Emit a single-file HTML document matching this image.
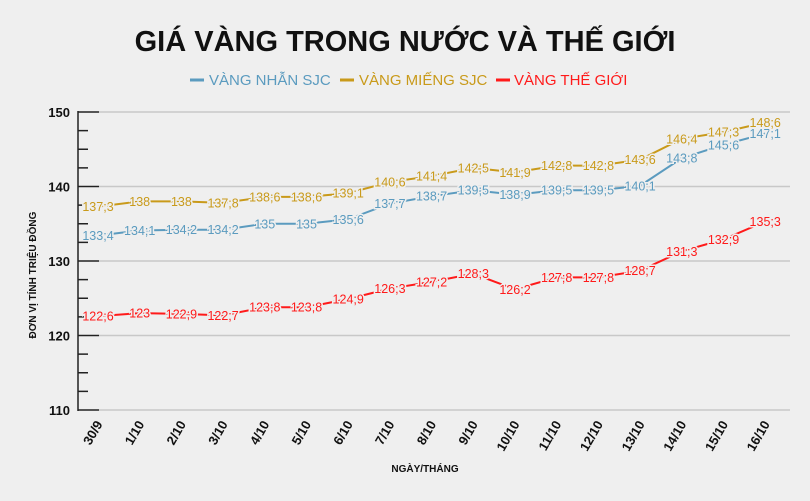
<!DOCTYPE html><html><head><meta charset="utf-8"><style>body{margin:0;background:#efefef;}svg{display:block;font-family:"Liberation Sans",sans-serif;}</style></head><body>
<svg id="s" width="810" height="501" xmlns="http://www.w3.org/2000/svg">
<rect width="810" height="501" fill="#efefef"/>
<text x="405" y="51" text-anchor="middle" font-size="29" font-weight="bold" fill="#111">GIÁ VÀNG TRONG NƯỚC VÀ THẾ GIỚI</text>
<line x1="190" y1="80" x2="204" y2="80" stroke="#5b9bbf" stroke-width="3"/><text x="209" y="85" font-size="15" fill="#5b9bbf">VÀNG NHẪN SJC</text>
<line x1="340" y1="80" x2="354" y2="80" stroke="#c99a1a" stroke-width="3"/><text x="359" y="85" font-size="15" fill="#c99a1a">VÀNG MIẾNG SJC</text>
<line x1="496" y1="80" x2="510" y2="80" stroke="#ff1a1a" stroke-width="3"/><text x="514" y="85" font-size="15" fill="#ff1a1a">VÀNG THẾ GIỚI</text>
<text transform="translate(36,275) rotate(-90)" text-anchor="middle" font-size="10" font-weight="bold" fill="#111">ĐƠN VỊ TÍNH TRIỆU ĐỒNG</text>
<text x="425" y="472" text-anchor="middle" font-size="10" font-weight="bold" fill="#111">NGÀY/THÁNG</text>
<g id="g"></g>
</svg>
<script>
var g=document.getElementById('g'),h='';
function Y(v){return 112+(150-v)*7.45;}
for(var i=0;i<=16;i++){var v=110+i*2.5,y=Y(v),maj=i%4==0;
h+='<line x1="78" y1="'+y+'" x2="'+(maj?99:88)+'" y2="'+y+'" stroke="#222" stroke-width="1.5"/>';
if(maj){h+='<line x1="99" y1="'+y+'" x2="790" y2="'+y+'" stroke="#c8c8c8" stroke-width="1.5"/><text x="70" y="'+(y+5)+'" text-anchor="end" font-size="13" font-weight="bold" fill="#111">'+v+'</text>';}}
h+='<line x1="78" y1="111" x2="78" y2="411" stroke="#222" stroke-width="1.5"/>';
var d=['30/9','1/10','2/10','3/10','4/10','5/10','6/10','7/10','8/10','9/10','10/10','11/10','12/10','13/10','14/10','15/10','16/10'];
function X(i){return 98+i*41.7;}
d.forEach(function(t,i){h+='<text transform="translate('+(X(i)+5)+',424) rotate(-60)" text-anchor="end" font-size="13" font-weight="bold" fill="#111">'+t+'</text>';});
var S=[["#5b9bbf",[133.4,134.1,134.2,134.2,135,135,135.6,137.7,138.7,139.5,138.9,139.5,139.5,140.1,143.8,145.6,147.1]],
["#c99a1a",[137.3,138,138,137.8,138.6,138.6,139.1,140.6,141.4,142.5,141.9,142.8,142.8,143.6,146.4,147.3,148.6]],
["#ff1a1a",[122.6,123,122.9,122.7,123.8,123.8,124.9,126.3,127.2,128.3,126.2,127.8,127.8,128.7,131.3,132.9,135.3]]];
S.forEach(function(s){var p=s[1].map(function(v,i){return X(i)+','+Y(v);}).join(' ');
h+='<polyline points="'+p+'" fill="none" stroke="'+s[0]+'" stroke-width="2"/>';
s[1].forEach(function(v,i){h+='<text x="'+X(i)+'" y="'+(Y(v)+4.5)+'" text-anchor="middle" font-size="12.5" fill="'+s[0]+'" stroke="#efefef" stroke-width="3" paint-order="stroke">'+String(v).replace('.',';')+'</text>';});});
g.innerHTML=h;
</script></body></html>
